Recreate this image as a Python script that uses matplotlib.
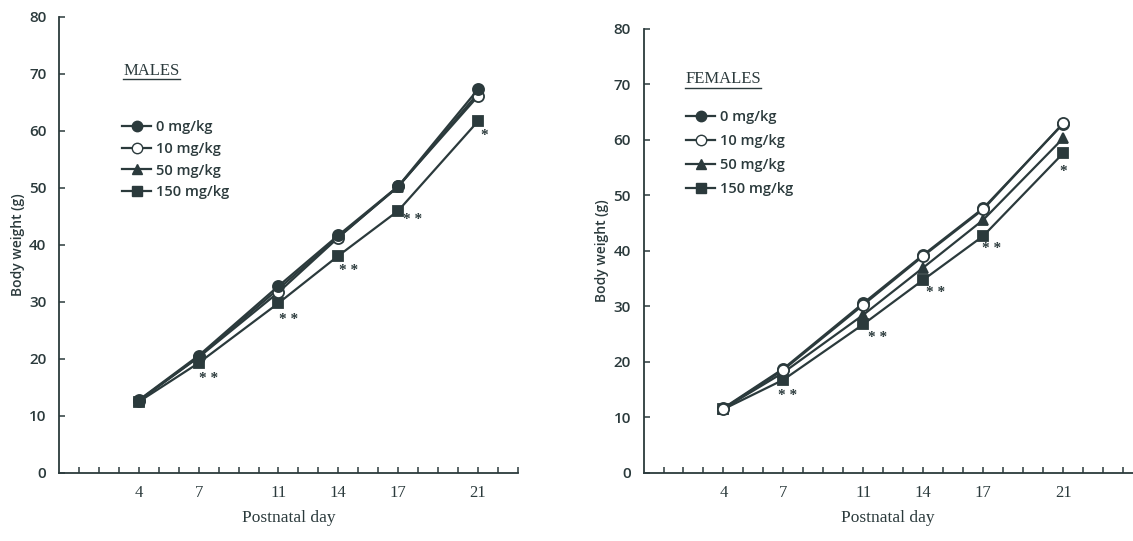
import matplotlib
matplotlib.use("Agg")
import matplotlib.pyplot as plt
from matplotlib.lines import Line2D

# postnatal days and body weights (g)
days = [4, 7, 11, 14, 17, 21]
doses = ["0 mg/kg", "10 mg/kg", "50 mg/kg", "150 mg/kg"]

males_0 = [12.8, 20.6, 32.8, 41.7, 50.3, 67.3]
males_10 = [12.7, 20.3, 31.7, 41.3, 50.3, 66.1]
males_50 = [12.7, 20.4, 32.3, 41.4, 50.2, 66.6]
males_150 = [12.5, 19.3, 29.8, 38.1, 46.0, 61.7]

females_0 = [11.7, 18.8, 30.6, 39.3, 47.7, 62.9]
females_10 = [11.6, 18.6, 30.3, 39.1, 47.5, 63.0]
females_50 = [11.6, 18.1, 28.5, 37.0, 45.6, 60.3]
females_150 = [11.5, 16.8, 26.8, 34.8, 42.7, 57.6]

# significance marks: (day, y, label)
males_sig = [(7.5, 16.6, "**"), (11.5, 26.9, "**"), (14.5, 35.6, "**"), (17.7, 44.5, "**"), (21.3, 59.2, "*")]
females_sig = [(7.2, 14.0, "**"), (11.7, 24.4, "**"), (14.6, 32.6, "**"), (17.4, 40.4, "**"), (21.0, 54.4, "*")]

ink = "#2b3a3c"
markers = ["o", "o", "^", "s"]
faces = [ink, "white", ink, ink]
sizes = [8, 8, 7.5, 7]
sans = ["Open Sans", "DejaVu Sans"]
serif = ["Liberation Serif", "DejaVu Serif"]

fig = plt.figure(figsize=(11.33, 5.41), dpi=100)
ax_m = fig.add_axes([0.0521, 0.1257, 0.405, 0.843])
ax_f = fig.add_axes([0.568, 0.1257, 0.432, 0.8207])


def draw_panel(ax, series, sig, title, xmax, title_xy, leg_xy, zo, spacing):
    for vals, m, fc, ms, z in zip(series, markers, faces, sizes, zo):
        ax.plot(days, vals, color=ink, lw=1.6, marker=m, ms=ms, zorder=z,
                markerfacecolor=fc, markeredgecolor=ink, markeredgewidth=1.3)
    for x, y, s in sig:
        ax.text(x, y, s.replace("*", "* ").strip(), color=ink, fontsize=11,
                fontweight="bold", family=serif, ha="center", va="center")

    ax.set_xlim(0, xmax)
    ax.set_ylim(0, 80)
    ax.set_xticks(range(1, int(xmax) + 1), minor=True)
    ax.set_xticks(days)
    ax.set_xticklabels([str(d) for d in days], family=serif, fontsize=12)
    ax.set_yticks(range(0, 81, 10))
    ax.set_yticklabels([str(v) for v in range(0, 81, 10)], family=sans,
                       fontsize=11, fontweight="semibold")
    ax.tick_params(axis="x", which="both", direction="in", length=4, width=1.1,
                   colors=ink, pad=9)
    ax.tick_params(axis="y", direction="in", length=4, width=1.1, colors=ink, pad=9)
    for s in ["top", "right"]:
        ax.spines[s].set_visible(False)
    for s in ["left", "bottom"]:
        ax.spines[s].set_color(ink)
        ax.spines[s].set_linewidth(1.3)
    ax.set_xlabel("Postnatal day", family=serif, fontsize=12.5, color=ink, labelpad=6)
    ax.set_ylabel("Body weight (g)", family=sans, fontsize=10, fontweight="semibold",
                  color=ink, labelpad=3)

    # panel title, underlined
    t = ax.text(title_xy[0], title_xy[1], title, transform=ax.transAxes,
                family=serif, fontsize=12, color=ink, va="bottom")
    fig.canvas.draw()
    bb = t.get_window_extent().transformed(ax.transAxes.inverted())
    ax.plot([bb.x0, bb.x1], [bb.y0 - 0.002, bb.y0 - 0.002], transform=ax.transAxes,
            color=ink, lw=1.0)

    handles = [Line2D([], [], color=ink, lw=1.6, marker=m, ms=ms - 0.5,
                      markerfacecolor=fc, markeredgecolor=ink)
               for m, fc, ms in zip(markers, faces, sizes)]
    ax.legend(handles, doses, loc="upper left", bbox_to_anchor=leg_xy, frameon=False,
              handlelength=2.0, handletextpad=0.3, labelspacing=spacing,
              prop={"family": sans, "size": 10.5, "weight": "semibold"},
              labelcolor=ink, borderaxespad=0)


draw_panel(ax_m, [males_0, males_10, males_50, males_150], males_sig, "MALES", 23,
           (0.14, 0.865), (0.125, 0.786), [5, 4, 3, 2], 0.52)
draw_panel(ax_f, [females_0, females_10, females_50, females_150], females_sig, "FEMALES", 24.5,
           (0.085, 0.87), (0.075, 0.83), [4, 5, 3, 2], 0.68)

fig.savefig("out.png", dpi=100)
